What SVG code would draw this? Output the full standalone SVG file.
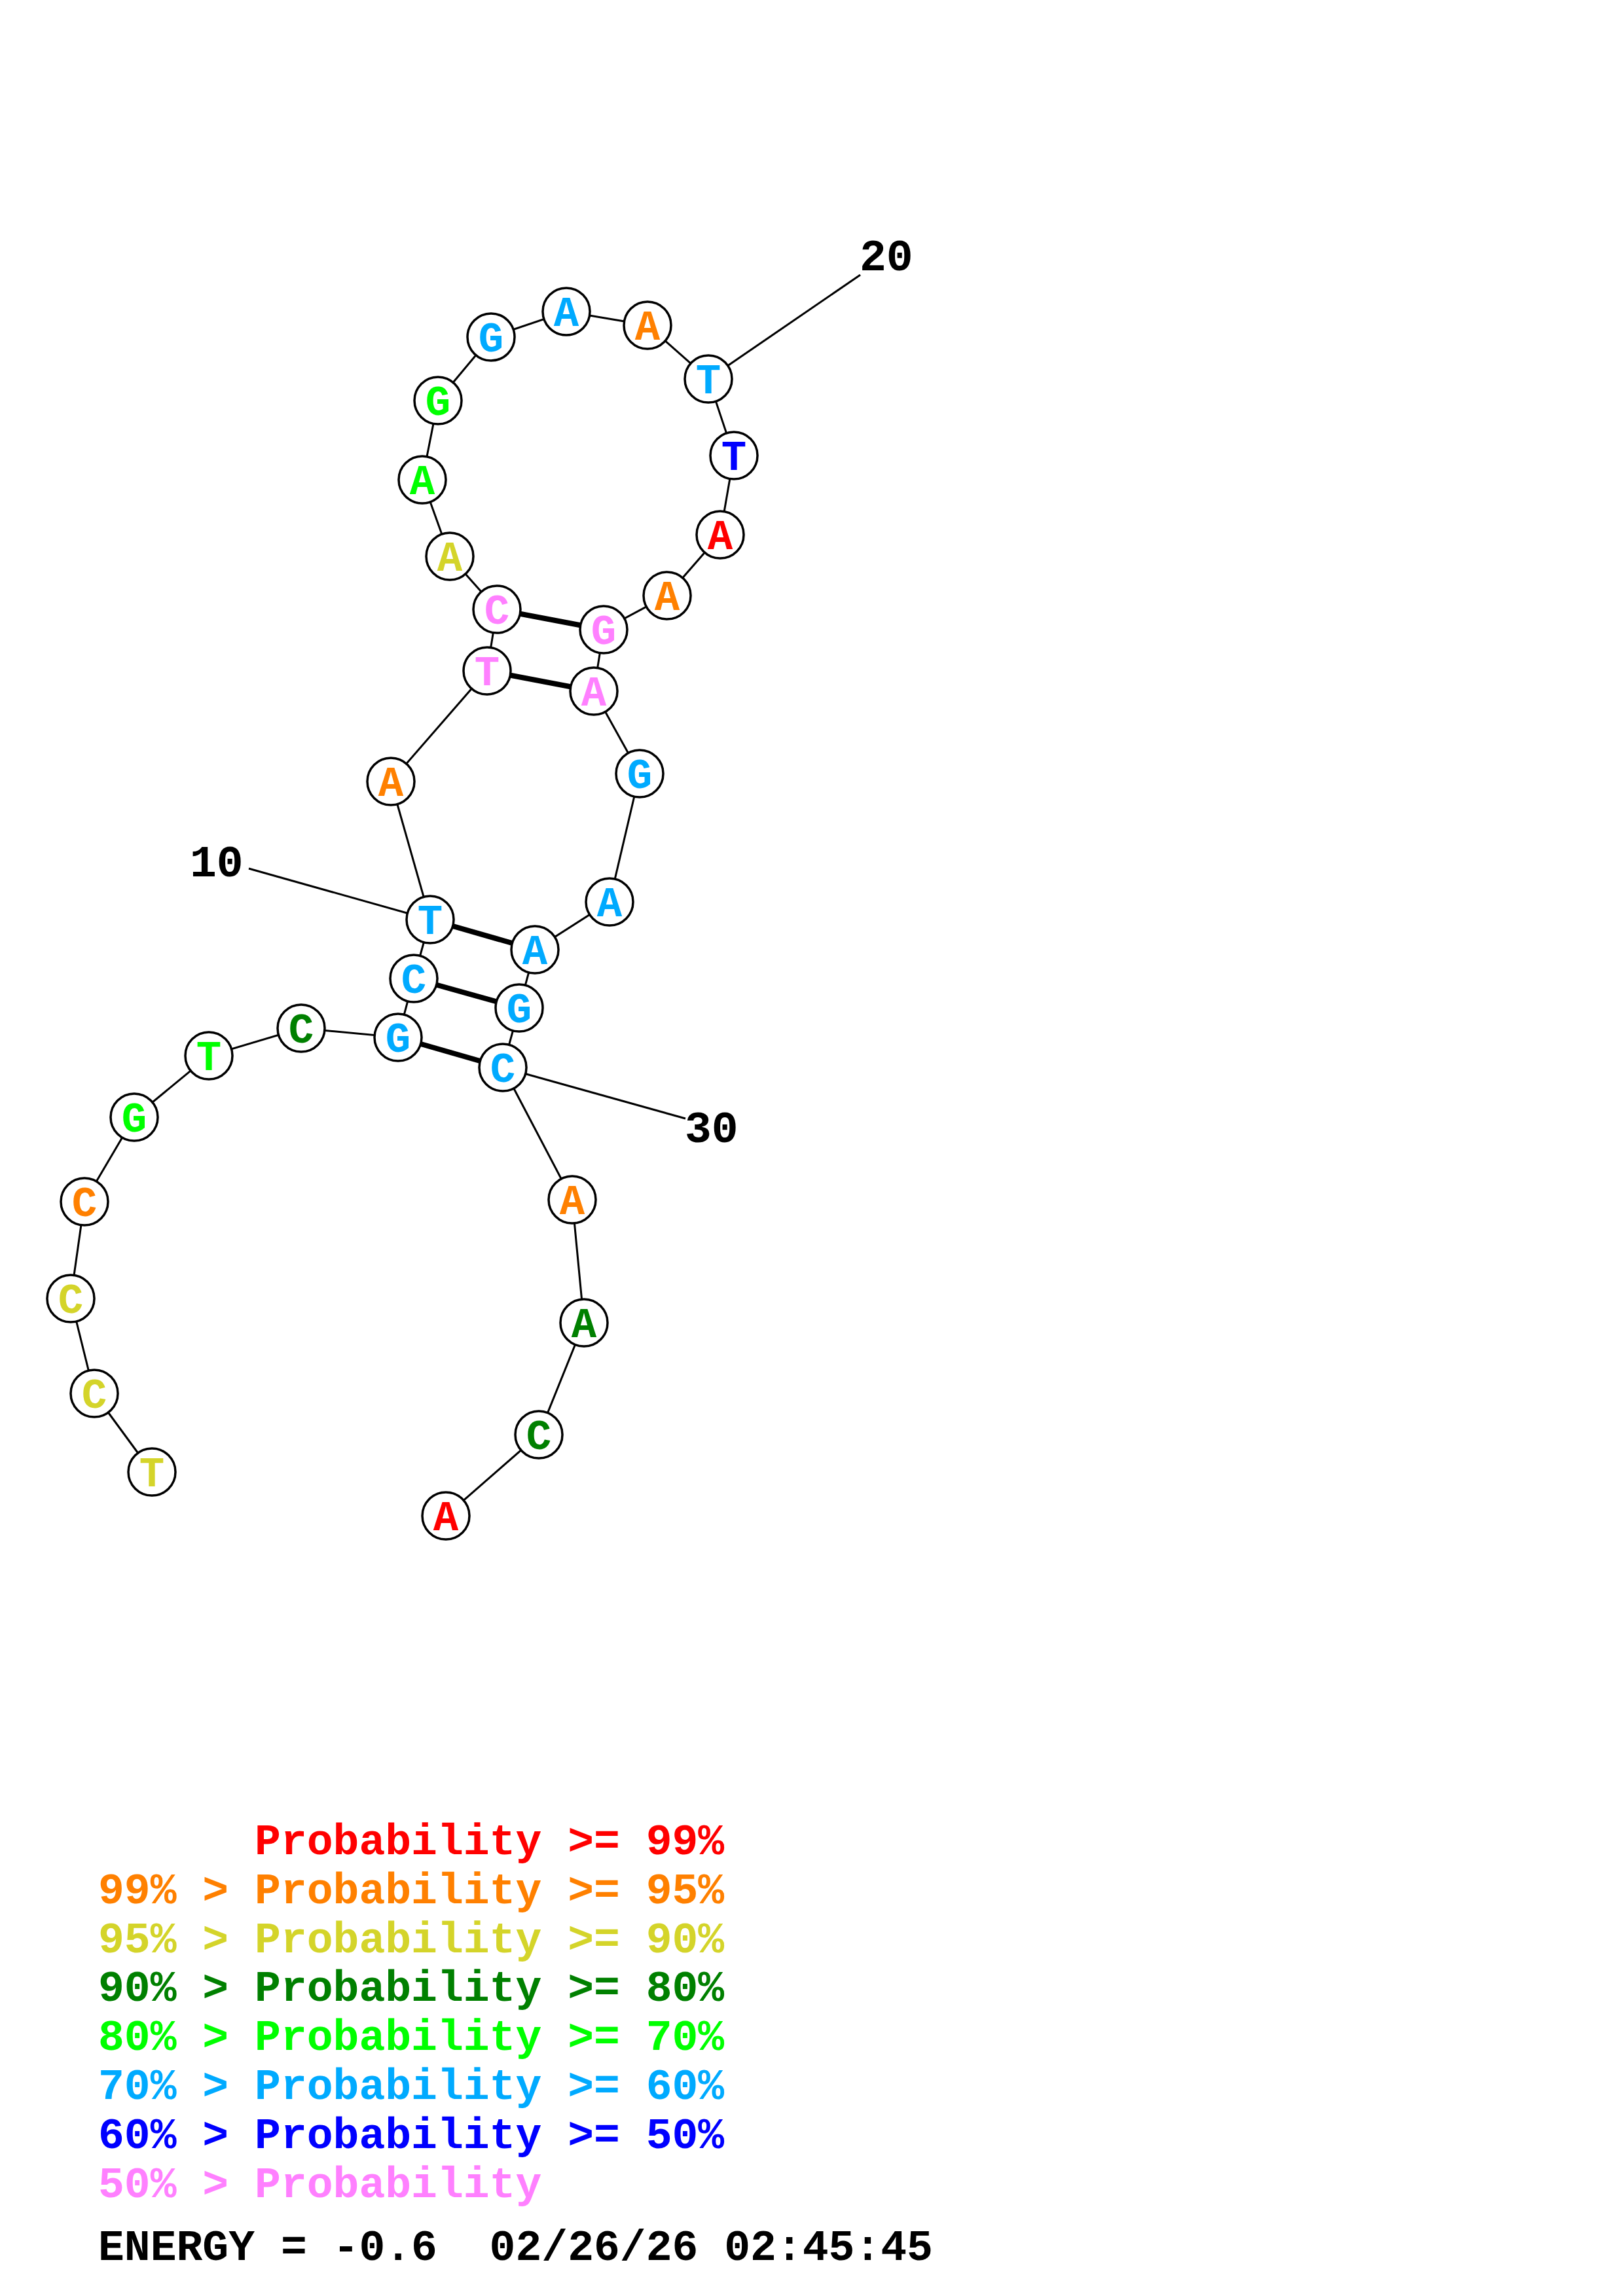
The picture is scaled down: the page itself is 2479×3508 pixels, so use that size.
<svg xmlns="http://www.w3.org/2000/svg" width="2479" height="3508" viewBox="0 0 2479 3508">
<style>
.bb{stroke:#000;stroke-width:3;fill:none}
.bp{stroke:#000;stroke-width:8;fill:none}
.nd circle{fill:#fff;stroke:#000;stroke-width:3.5}
.nd text{font-family:"Liberation Mono","Courier New",monospace;font-weight:bold;font-size:64px;text-anchor:middle}
.lb{font-family:"Liberation Mono","Courier New",monospace;font-weight:bold;font-size:68px;fill:#000}
.lg{font-family:"Liberation Mono","Courier New",monospace;font-weight:bold;font-size:66.4px;white-space:pre}
.r{fill:#ff0000}.o{fill:#ff8000}.y{fill:#d4d42a}.dg{fill:#008000}.lm{fill:#00ff00}.sb{fill:#00aaff}.b{fill:#0000ff}.p{fill:#ff80ff}.k{fill:#000}
</style>
<rect width="2479" height="3508" fill="#fff"/>
<g id="connectors">
<polyline class="bb" points="232,2249 144,2129 108,1984 129,1836 205,1707 319,1613 460,1571 608,1585 632,1495 657,1405 597,1194 744,1025 759,931 687,850 645,733 669,612 750,515 865,476 989,497 1082,579 1121,696 1100,817 1019,910 922,962 907,1056 977,1182 931,1378 817,1451 793,1540 768,1631 874,1833 892,2021 823,2192 681,2316"/>
<line class="bp" x1="608" y1="1585" x2="768" y2="1631"/>
<line class="bp" x1="632" y1="1495" x2="793" y2="1540"/>
<line class="bp" x1="657" y1="1405" x2="817" y2="1451"/>
<line class="bp" x1="744" y1="1025" x2="907" y2="1056"/>
<line class="bp" x1="759" y1="931" x2="922" y2="962"/>
<line class="bb" x1="1082" y1="579" x2="1314" y2="420"/>
<line class="bb" x1="380" y1="1327" x2="657" y2="1405"/>
<line class="bb" x1="768" y1="1631" x2="1047" y2="1709"/>
</g>
<g id="n1" class="nd"><circle cx="232" cy="2249" r="36"/><text x="232" y="2271" class="y">T</text></g>
<g id="n2" class="nd"><circle cx="144" cy="2129" r="36"/><text x="144" y="2151" class="y">C</text></g>
<g id="n3" class="nd"><circle cx="108" cy="1984" r="36"/><text x="108" y="2006" class="y">C</text></g>
<g id="n4" class="nd"><circle cx="129" cy="1836" r="36"/><text x="129" y="1858" class="o">C</text></g>
<g id="n5" class="nd"><circle cx="205" cy="1707" r="36"/><text x="205" y="1729" class="lm">G</text></g>
<g id="n6" class="nd"><circle cx="319" cy="1613" r="36"/><text x="319" y="1635" class="lm">T</text></g>
<g id="n7" class="nd"><circle cx="460" cy="1571" r="36"/><text x="460" y="1593" class="dg">C</text></g>
<g id="n8" class="nd"><circle cx="608" cy="1585" r="36"/><text x="608" y="1607" class="sb">G</text></g>
<g id="n9" class="nd"><circle cx="632" cy="1495" r="36"/><text x="632" y="1517" class="sb">C</text></g>
<g id="n10" class="nd"><circle cx="657" cy="1405" r="36"/><text x="657" y="1427" class="sb">T</text></g>
<g id="n11" class="nd"><circle cx="597" cy="1194" r="36"/><text x="597" y="1216" class="o">A</text></g>
<g id="n12" class="nd"><circle cx="744" cy="1025" r="36"/><text x="744" y="1047" class="p">T</text></g>
<g id="n13" class="nd"><circle cx="759" cy="931" r="36"/><text x="759" y="953" class="p">C</text></g>
<g id="n14" class="nd"><circle cx="687" cy="850" r="36"/><text x="687" y="872" class="y">A</text></g>
<g id="n15" class="nd"><circle cx="645" cy="733" r="36"/><text x="645" y="755" class="lm">A</text></g>
<g id="n16" class="nd"><circle cx="669" cy="612" r="36"/><text x="669" y="634" class="lm">G</text></g>
<g id="n17" class="nd"><circle cx="750" cy="515" r="36"/><text x="750" y="537" class="sb">G</text></g>
<g id="n18" class="nd"><circle cx="865" cy="476" r="36"/><text x="865" y="498" class="sb">A</text></g>
<g id="n19" class="nd"><circle cx="989" cy="497" r="36"/><text x="989" y="519" class="o">A</text></g>
<g id="n20" class="nd"><circle cx="1082" cy="579" r="36"/><text x="1082" y="601" class="sb">T</text></g>
<g id="n21" class="nd"><circle cx="1121" cy="696" r="36"/><text x="1121" y="718" class="b">T</text></g>
<g id="n22" class="nd"><circle cx="1100" cy="817" r="36"/><text x="1100" y="839" class="r">A</text></g>
<g id="n23" class="nd"><circle cx="1019" cy="910" r="36"/><text x="1019" y="932" class="o">A</text></g>
<g id="n24" class="nd"><circle cx="922" cy="962" r="36"/><text x="922" y="984" class="p">G</text></g>
<g id="n25" class="nd"><circle cx="907" cy="1056" r="36"/><text x="907" y="1078" class="p">A</text></g>
<g id="n26" class="nd"><circle cx="977" cy="1182" r="36"/><text x="977" y="1204" class="sb">G</text></g>
<g id="n27" class="nd"><circle cx="931" cy="1378" r="36"/><text x="931" y="1400" class="sb">A</text></g>
<g id="n28" class="nd"><circle cx="817" cy="1451" r="36"/><text x="817" y="1473" class="sb">A</text></g>
<g id="n29" class="nd"><circle cx="793" cy="1540" r="36"/><text x="793" y="1562" class="sb">G</text></g>
<g id="n30" class="nd"><circle cx="768" cy="1631" r="36"/><text x="768" y="1653" class="sb">C</text></g>
<g id="n31" class="nd"><circle cx="874" cy="1833" r="36"/><text x="874" y="1855" class="o">A</text></g>
<g id="n32" class="nd"><circle cx="892" cy="2021" r="36"/><text x="892" y="2043" class="dg">A</text></g>
<g id="n33" class="nd"><circle cx="823" cy="2192" r="36"/><text x="823" y="2214" class="dg">C</text></g>
<g id="n34" class="nd"><circle cx="681" cy="2316" r="36"/><text x="681" y="2338" class="r">A</text></g>
<g id="labels">
<text class="lb" x="290" y="1339">10</text>
<text class="lb" x="1313" y="413">20</text>
<text class="lb" x="1046" y="1745">30</text>
</g>
<g id="legend">
<text class="lg r" x="150" y="2833">      Probability &gt;= 99%</text>
<text class="lg o" x="150" y="2908">99% &gt; Probability &gt;= 95%</text>
<text class="lg y" x="150" y="2983">95% &gt; Probability &gt;= 90%</text>
<text class="lg dg" x="150" y="3057">90% &gt; Probability &gt;= 80%</text>
<text class="lg lm" x="150" y="3132">80% &gt; Probability &gt;= 70%</text>
<text class="lg sb" x="150" y="3207">70% &gt; Probability &gt;= 60%</text>
<text class="lg b" x="150" y="3282">60% &gt; Probability &gt;= 50%</text>
<text class="lg p" x="150" y="3357">50% &gt; Probability</text>
<text class="lg k" x="150" y="3453">ENERGY = -0.6  02/26/26 02:45:45</text>
</g>
</svg>
